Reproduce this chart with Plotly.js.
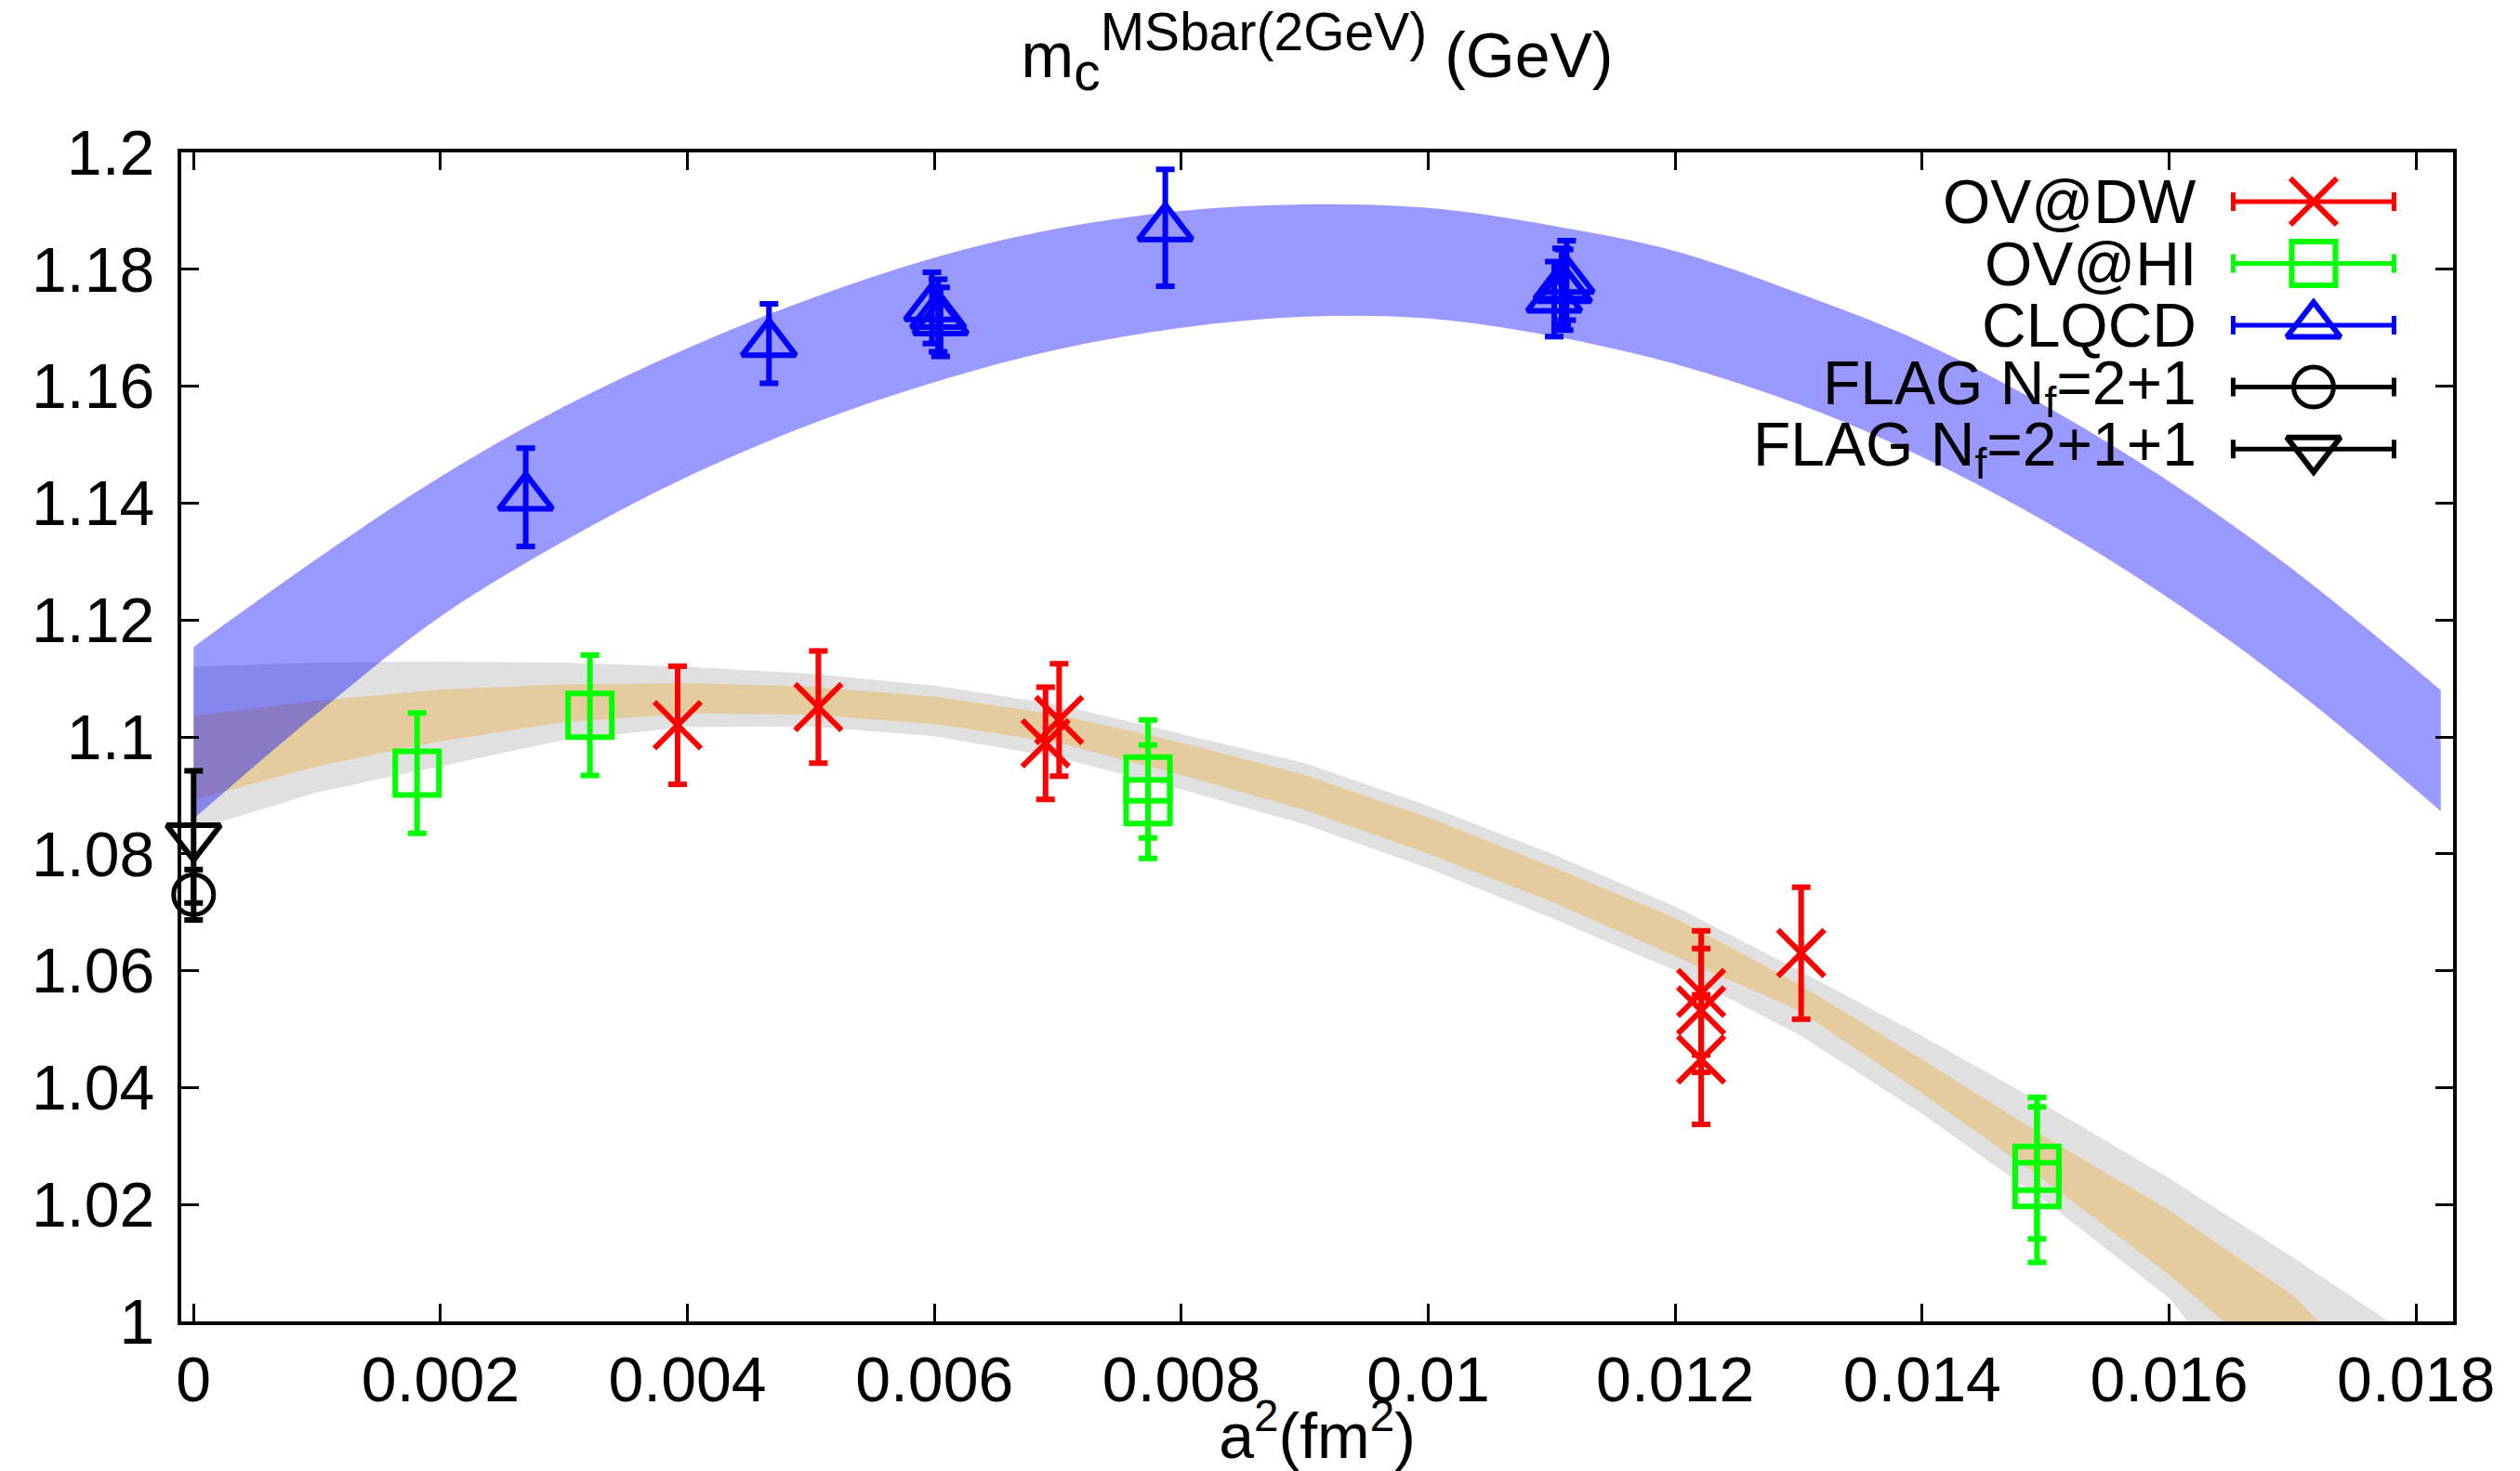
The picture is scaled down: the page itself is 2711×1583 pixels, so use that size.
<!DOCTYPE html>
<html><head><meta charset="utf-8">
<script src="https://cdn.plot.ly/plotly-3.0.1.min.js"></script>
<style>html,body{margin:0;padding:0;background:#fff}</style>
</head><body><div id="chart" style="width:2711px;height:1583px"></div>
<script>
// ---------------- data ----------------
// OV@DW
const dwX   = [0.00392, 0.00506, 0.00690, 0.00701, 0.01221, 0.01221, 0.01221, 0.01302];
const dwY   = [1.1020, 1.1051, 1.0989, 1.1029, 1.0562, 1.0532, 1.0448, 1.0630];
const dwErr = [0.0101, 0.0096, 0.0096, 0.0096, 0.0106, 0.0106, 0.0111, 0.0113];
// OV@HI
const hiX   = [0.00181, 0.00321, 0.00773, 0.00773, 0.01493, 0.01493];
const hiY   = [1.0938, 1.1037, 1.0928, 1.0889, 1.0262, 1.0234];
const hiErr = [0.0103, 0.0103, 0.0101, 0.0097, 0.0121, 0.0133];
// CLQCD
const clX   = [0.00269, 0.00466, 0.00598, 0.00603, 0.00605, 0.00787, 0.01112, 0.01108, 0.01110, 0.01102];
const clY   = [1.1410, 1.1673, 1.1734, 1.1721, 1.1710, 1.1871, 1.1781, 1.1770, 1.1765, 1.1749];
const clErr = [0.0084, 0.0068, 0.0061, 0.0062, 0.0059, 0.0100, 0.0068, 0.0066, 0.0069, 0.0064];
// FLAG
const flag21X = [0];      const flag21Y = [1.0730];  const flag21Err = [0.0043];
const flag211X = [0];     const flag211Y = [1.0829]; const flag211Err = [0.0113];

// CLQCD fit band
const blueBandX     = [0, 0.001, 0.002, 0.003, 0.004, 0.005, 0.006, 0.007, 0.008, 0.009, 0.010, 0.011, 0.012, 0.013, 0.014, 0.015, 0.016, 0.017, 0.0182];
const blueBandUpper = [1.1154, 1.1305, 1.1445, 1.1565, 1.1665, 1.1750, 1.1820, 1.1870, 1.1900, 1.1911, 1.1905, 1.1875, 1.1831, 1.1759, 1.1675, 1.1566, 1.1437, 1.1287, 1.1080];
const blueBandLower = [1.0860, 1.1040, 1.1206, 1.1335, 1.1445, 1.1535, 1.1607, 1.1663, 1.1700, 1.1719, 1.1716, 1.1686, 1.1638, 1.1569, 1.1479, 1.1368, 1.1237, 1.1084, 1.0873];

// overlap fit bands (grey = wide, tan = narrow)
const greyUpperX = [0, 0.001, 0.002, 0.003, 0.004, 0.005, 0.006, 0.007, 0.008, 0.009, 0.010, 0.011, 0.012, 0.013, 0.014, 0.015, 0.016, 0.017, 0.01778];
const greyUpperY = [1.1120, 1.1127, 1.1129, 1.1127, 1.1120, 1.1108, 1.1088, 1.1055, 1.1005, 1.0955, 1.0882, 1.0800, 1.0710, 1.0601, 1.0488, 1.0370, 1.0245, 1.0110, 1.0000];
const greyLowerX = [0, 0.001, 0.002, 0.003, 0.004, 0.005, 0.006, 0.007, 0.008, 0.009, 0.010, 0.011, 0.012, 0.013, 0.014, 0.015, 0.016, 0.01615];
const greyLowerY = [1.0841, 1.0905, 1.0950, 1.0995, 1.1017, 1.1018, 1.1001, 1.0965, 1.0910, 1.0850, 1.0775, 1.0690, 1.0600, 1.0491, 1.0355, 1.0205, 1.0040, 1.0000];
const tanUpperX  = [0, 0.001, 0.002, 0.003, 0.004, 0.005, 0.006, 0.007, 0.008, 0.009, 0.010, 0.011, 0.012, 0.013, 0.014, 0.015, 0.016, 0.017, 0.01721];
const tanUpperY  = [1.1036, 1.1062, 1.1081, 1.1090, 1.1092, 1.1086, 1.1069, 1.1038, 1.0990, 1.0935, 1.0862, 1.0778, 1.0690, 1.0577, 1.0448, 1.0315, 1.0190, 1.0045, 1.0000];
const tanLowerX  = [0, 0.001, 0.002, 0.003, 0.004, 0.005, 0.006, 0.007, 0.008, 0.009, 0.010, 0.011, 0.012, 0.013, 0.014, 0.015, 0.016, 0.01644];
const tanLowerY  = [1.0892, 1.0950, 1.0993, 1.1025, 1.1040, 1.1038, 1.1022, 1.0990, 1.0935, 1.0875, 1.0800, 1.0718, 1.0625, 1.0532, 1.0390, 1.0240, 1.0080, 1.0000];

// ticks
const xTickVals = [0, 0.002, 0.004, 0.006, 0.008, 0.01, 0.012, 0.014, 0.016, 0.018];
const xTickText = ['0', '0.002', '0.004', '0.006', '0.008', '0.01', '0.012', '0.014', '0.016', '0.018'];
const yTickVals = [1, 1.02, 1.04, 1.06, 1.08, 1.1, 1.12, 1.14, 1.16, 1.18, 1.2];
const yTickText = ['1', '1.02', '1.04', '1.06', '1.08', '1.1', '1.12', '1.14', '1.16', '1.18', '1.2'];

// legend
const legendLabels = ['OV@DW', 'OV@HI', 'CLQCD', 'FLAG N<sub>f</sub>=2+1', 'FLAG N<sub>f</sub>=2+1+1'];

// ---------------- styles ----------------
const FONT = 'Liberation Sans, Arial, Helvetica, sans-serif';
const FS = 68;
const LEG_FS = 66;
const RED = '#ff0000', GREEN = '#00ff00', BLUE = '#0000ff', BLACK = '#000000';
const styles = [
  {color: RED,   symbol: 'x-thin',             size: 50, lw: 6},
  {color: GREEN, symbol: 'square-open',        size: 47, lw: 6},
  {color: BLUE,  symbol: 'triangle-up-open',   size: 50, lw: 6},
  {color: BLACK, symbol: 'circle-open',        size: 43, lw: 5},
  {color: BLACK, symbol: 'triangle-down-open', size: 50, lw: 6}
];

function bandTraces(lx, ly, ux, uy, fill, shape) {
  return [
    {x: lx, y: ly, mode: 'lines', line: {width: 0, shape: shape}, hoverinfo: 'skip', showlegend: false},
    {x: ux, y: uy, mode: 'lines', line: {width: 0, shape: shape}, fill: 'tonexty', fillcolor: fill, hoverinfo: 'skip', showlegend: false}
  ];
}

function pointTrace(x, y, err, st, clip) {
  return {
    x: x, y: y, mode: 'markers', showlegend: false, cliponaxis: clip,
    marker: {symbol: st.symbol, size: st.size, color: st.color, line: {color: st.color, width: st.lw}},
    error_y: {type: 'data', array: err, visible: true, color: st.color, thickness: 6, width: 10}
  };
}

const traces = [];
traces.push(...bandTraces(greyLowerX, greyLowerY, greyUpperX, greyUpperY, 'rgb(224,224,224)', 'linear'));
traces.push(...bandTraces(tanLowerX, tanLowerY, tanUpperX, tanUpperY, 'rgb(229,204,159)', 'linear'));
traces.push(...bandTraces(blueBandX, blueBandLower, blueBandX, blueBandUpper, 'rgba(0,0,255,0.40)', 'spline'));

traces.push(pointTrace(dwX, dwY, dwErr, styles[0], true));
traces.push(pointTrace(hiX, hiY, hiErr, styles[1], true));
traces.push(pointTrace(clX, clY, clErr, styles[2], true));
traces.push(pointTrace(flag21X, flag21Y, flag21Err, styles[3], false));
traces.push(pointTrace(flag211X, flag211Y, flag211Err, styles[4], false));

// legend (gnuplot-style: text right-aligned, sample to the right)
const LEG_TEXT_X = 0.8879;   // paper x of text right edge
const LEG_SAMPLE_X = 0.9386; // paper x of sample centre
const LEG_SAMPLE_HW = 0.0354;
const LEG_TOP = 0.9579, LEG_STEP = 0.0529;
const annotations = [];
legendLabels.forEach(function (lab, i) {
  const yy = LEG_TOP - i * LEG_STEP;
  annotations.push({xref: 'paper', yref: 'paper', x: LEG_TEXT_X, y: yy, xanchor: 'right', yanchor: 'middle',
    text: lab, showarrow: false, font: {family: FONT, size: LEG_FS, color: '#000'}});
  const st = styles[i];
  traces.push({
    x: [LEG_SAMPLE_X], y: [yy], xaxis: 'x2', yaxis: 'y2', mode: 'markers', showlegend: false, hoverinfo: 'skip', cliponaxis: false,
    marker: {symbol: st.symbol, size: st.size, color: st.color, line: {color: st.color, width: st.lw}},
    error_x: {type: 'constant', value: LEG_SAMPLE_HW, visible: true, color: st.color, thickness: 5, width: 10}
  });
});

const axisCommon = {
  showline: true, linecolor: '#000', linewidth: 4, mirror: 'ticks',
  ticks: 'inside', ticklen: 19, tickwidth: 3, tickcolor: '#000',
  showgrid: false, zeroline: false,
  tickfont: {family: FONT, size: FS, color: '#000'},
  tickmode: 'array'
};

const layout = {
  width: 2711, height: 1583,
  margin: {l: 195, r: 72, t: 164, b: 161},
  paper_bgcolor: '#fff', plot_bgcolor: '#fff',
  showlegend: false,
  title: {
    text: 'm<sub><span style="font-size:57px">c</span></sub><sup><span style="font-size:57px">MSbar(2GeV)</span></sup> (GeV)',
    font: {family: FONT, size: FS, color: '#000'},
    x: 0.5, xref: 'paper', xanchor: 'center', y: 0.9628, yref: 'container', yanchor: 'middle'
  },
  xaxis: Object.assign({}, axisCommon, {
    range: [-0.0001, 0.0183], tickvals: xTickVals, ticktext: xTickText, ticklabelstandoff: 0,
    title: {text: 'a<sup>2</sup>(fm<sup>2</sup>)', font: {family: FONT, size: FS, color: '#000'}, standoff: 30}
  }),
  yaxis: Object.assign({}, axisCommon, {
    range: [1, 1.2], tickvals: yTickVals, ticktext: yTickText, ticklabelstandoff: 11
  }),
  xaxis2: {overlaying: 'x', range: [0, 1], visible: false, fixedrange: true},
  yaxis2: {overlaying: 'y', range: [0, 1], visible: false, fixedrange: true},
  annotations: annotations
};

Plotly.newPlot('chart', traces, layout, {staticPlot: true, displayModeBar: false});
</script></body></html>
